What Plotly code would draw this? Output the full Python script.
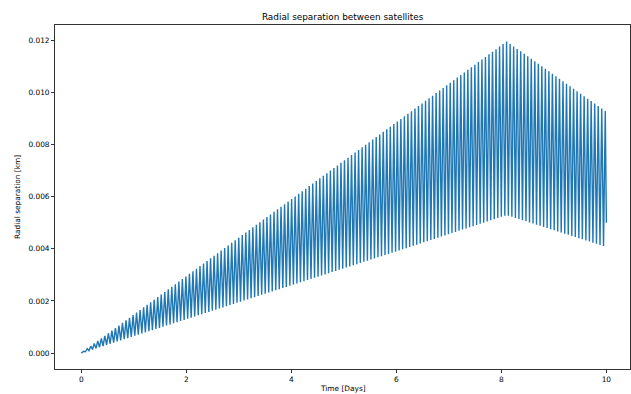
import numpy as np
import plotly.graph_objects as go

# Values
envelope_days = [0.0, 2.0, 4.0, 6.0, 8.1, 10.0]
upper_env = [0.0, 0.00295, 0.0059, 0.00885, 0.01195, 0.00925]   # km, oscillation maxima
lower_env = [0.0, 0.0013, 0.0026, 0.0039, 0.00529, 0.00407]     # km, oscillation minima
orbits_per_day = 14.9
peak_day = 8.1
end_day, end_value = 10.0, 0.0050

x_ticks = [0, 2, 4, 6, 8, 10]
y_ticks = [0.0, 0.002, 0.004, 0.006, 0.008, 0.010, 0.012]

# Build the oscillating series: alternating maxima and minima
period = 1.0 / orbits_per_day
n_before = int(np.floor(peak_day / period))
first_peak = peak_day - n_before * period
upper_t = np.arange(first_peak, end_day, period)
lower_t = upper_t + period / 2

t = [0.0]
y = [0.0]
for tu, tl in zip(upper_t, lower_t):
    if tu < end_day:
        t.append(tu)
        y.append(float(np.interp(tu, envelope_days, upper_env)))
    if tl < end_day:
        t.append(tl)
        y.append(float(np.interp(tl, envelope_days, lower_env)))
t.append(end_day)
y.append(end_value)

FONT = "DejaVu Sans"
TICK_SIZE = 7.4
TITLE_SIZE = 8.9

fig = go.Figure()
fig.add_trace(go.Scatter(x=t, y=y, mode="lines",
                         line=dict(color="#1f77b4", width=1.4),
                         showlegend=False, hoverinfo="skip"))

axis_common = dict(showline=True, mirror=True, linecolor="#333333", linewidth=0.9,
                   ticks="outside", ticklen=3, tickcolor="#333333", tickwidth=0.9,
                   showgrid=False, zeroline=False, automargin=False,
                   tickfont=dict(family=FONT, size=TICK_SIZE, color="black"))

fig.update_layout(
    width=631, height=394,
    margin=dict(l=55, r=1, t=25, b=25),
    paper_bgcolor="white", plot_bgcolor="white",
    title=dict(text="Radial separation between satellites", x=0.543, xanchor="center",
               y=0.958, yanchor="middle", automargin=False,
               font=dict(family=FONT, size=TITLE_SIZE, color="black")),
    xaxis=dict(range=[-0.5, 10.45], tickvals=x_ticks,
               ticktext=[str(v) for v in x_ticks], **axis_common),
    yaxis=dict(range=[-0.00061, 0.01258], tickvals=y_ticks,
               ticktext=[f"{v:.3f}" for v in y_ticks], **axis_common),
    annotations=[
        dict(text="Time [Days]", xref="paper", yref="paper", x=0.5, y=-0.058,
             xanchor="center", yanchor="middle", showarrow=False,
             font=dict(family=FONT, size=TICK_SIZE, color="black")),
        dict(text="Radial separation [km]", xref="paper", yref="paper", x=-0.066, y=0.5,
             xanchor="center", yanchor="middle", showarrow=False, textangle=-90,
             font=dict(family=FONT, size=TICK_SIZE, color="black")),
    ],
)

fig.write_html("out.html", config={"displayModeBar": False},
               post_script="document.body.style.margin='0';document.body.style.overflow='hidden';")
